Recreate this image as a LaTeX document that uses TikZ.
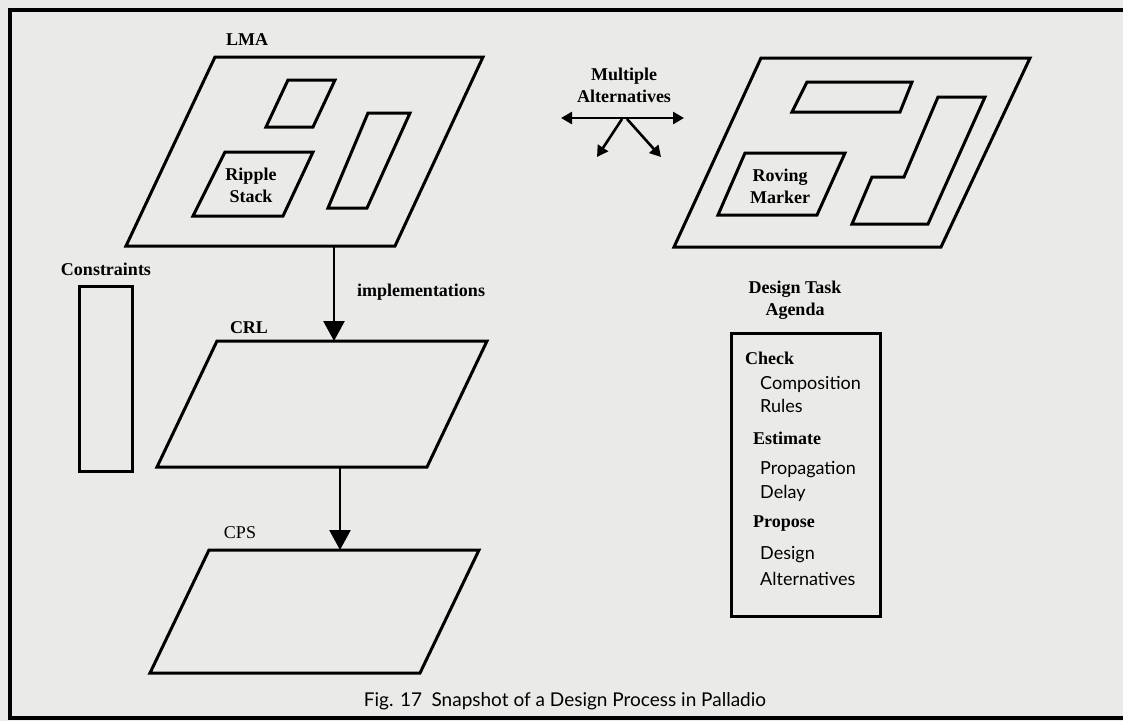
\documentclass[tikz,border=0pt]{standalone}
\usepackage{fontspec}
\setmainfont{Liberation Serif}
\newfontfamily\optfont{Lato}
\usetikzlibrary{arrows.meta}
\definecolor{bg}{RGB}{234,234,232}
\begin{document}
\begin{tikzpicture}[x=1pt,y=-1pt,
  shape line/.style={line width=3pt,line join=miter},
  frame line/.style={line width=3.2pt},
  lbl/.style={font=\fontsize{18}{22}\selectfont\bfseries,inner sep=0pt,align=center},
  item/.style={font=\fontsize{18}{22}\selectfont\bfseries,inner sep=0pt,anchor=west},
  sub/.style={font=\optfont\fontsize{18}{22}\selectfont,inner sep=0pt,anchor=west},
  bigarrow/.style={line width=2.6pt,-{Triangle[length=20pt,width=21pt]}},
  smallarrow/.style={line width=2.6pt,-{Triangle[length=11pt,width=12pt]}},
  dblarrow/.style={line width=2.6pt,{Triangle[length=11pt,width=12pt]}-{Triangle[length=11pt,width=12pt]}}]
\fill[bg] (0,0) rectangle (1123,721);
\useasboundingbox (0,0) rectangle (1123,721);
% frame
\draw[frame line] (1130,10) -- (10,10) -- (10,718) -- (1130,718);
% LMA plane
\draw[shape line] (215,57) -- (483,57) -- (395,246) -- (126,246) -- cycle;
\draw[shape line] (288,80) -- (335,80) -- (313,127) -- (266,127) -- cycle;
\draw[shape line] (368,113) -- (410,113) -- (367,208) -- (328,208) -- cycle;
\draw[shape line] (225,152) -- (313,152) -- (283,216) -- (193,216) -- cycle;
\node[lbl] (lma) at (247,40) {LMA};
\node[lbl] (ripple) at (251,185) {Ripple\\[0pt]Stack};
% Roving plane
\draw[shape line] (761,58) -- (1030,58) -- (941,247) -- (674,247) -- cycle;
\draw[shape line] (807,82) -- (912,82) -- (900,112) -- (792,112) -- cycle;
\draw[shape line] (745,153) -- (845,153) -- (817,215) -- (718,215) -- cycle;
\draw[shape line] (938,97) -- (985,97) -- (928,224) -- (852,224) -- (872,177) -- (904,177) -- cycle;
\node[lbl] (roving) at (780,186) {Roving\\[0pt]Marker};
% multiple alternatives
\node[lbl] (multi) at (624,85) {Multiple\\[0pt]Alternatives};
\coordinate (mL) at (561,118);
\coordinate (mR) at (684,118);
\coordinate (mS1) at (622,119);
\coordinate (mS2) at (627,119);
\coordinate (mE1) at (597,157);
\coordinate (mE2) at (661,157);
\draw[dblarrow] (mL) -- (mR);
\draw[smallarrow] (mS1) -- (mE1);
\draw[smallarrow] (mS2) -- (mE2);
% CRL plane
\draw[shape line] (217,341) -- (487,341) -- (427,467) -- (157,467) -- cycle;
\node[lbl] (crl) at (249,328) {CRL};
% CPS plane
\draw[shape line] (209,550) -- (479,550) -- (420,673) -- (150,673) -- cycle;
\node[lbl,font=\fontsize{18}{22}\selectfont] (cps) at (240,533) {CPS};
% arrows
\coordinate (lmaB) at (334,246);
\coordinate (crlT) at (334,341);
\coordinate (crlB) at (340,467);
\coordinate (cpsT) at (340,550);
\draw[bigarrow] (lmaB) -- (crlT);
\draw[bigarrow] (crlB) -- (cpsT);
\node[lbl] (impl) at (421,292) {implementations};
% constraints
\node[lbl] (cons) at (106,269) {Constraints};
\draw[shape line] (79,286) rectangle (132,471);
% agenda
\node[lbl] (dta) at (795,300) {Design Task\\[0pt]Agenda};
\draw[shape line] (731,333) rectangle (880,616);
\node[item] (check) at (745,358) {Check};
\node[sub] (comp) at (760,384) {Composition};
\node[sub] (rules) at (760,406) {Rules};
\node[item] (est) at (753,438) {Estimate};
\node[sub] (prop) at (760,470) {Propagation};
\node[sub] (delay) at (760,493) {Delay};
\node[item] (propose) at (753,524) {Propose};
\node[sub] (design) at (760,555) {Design};
\node[sub] (alts) at (760,579) {Alternatives};
% caption
\node[font=\optfont\fontsize{19}{23}\selectfont,inner sep=0pt] (cap) at (565,701) {Fig. 17\enskip Snapshot of a Design Process in Palladio};
\end{tikzpicture}
\end{document}
